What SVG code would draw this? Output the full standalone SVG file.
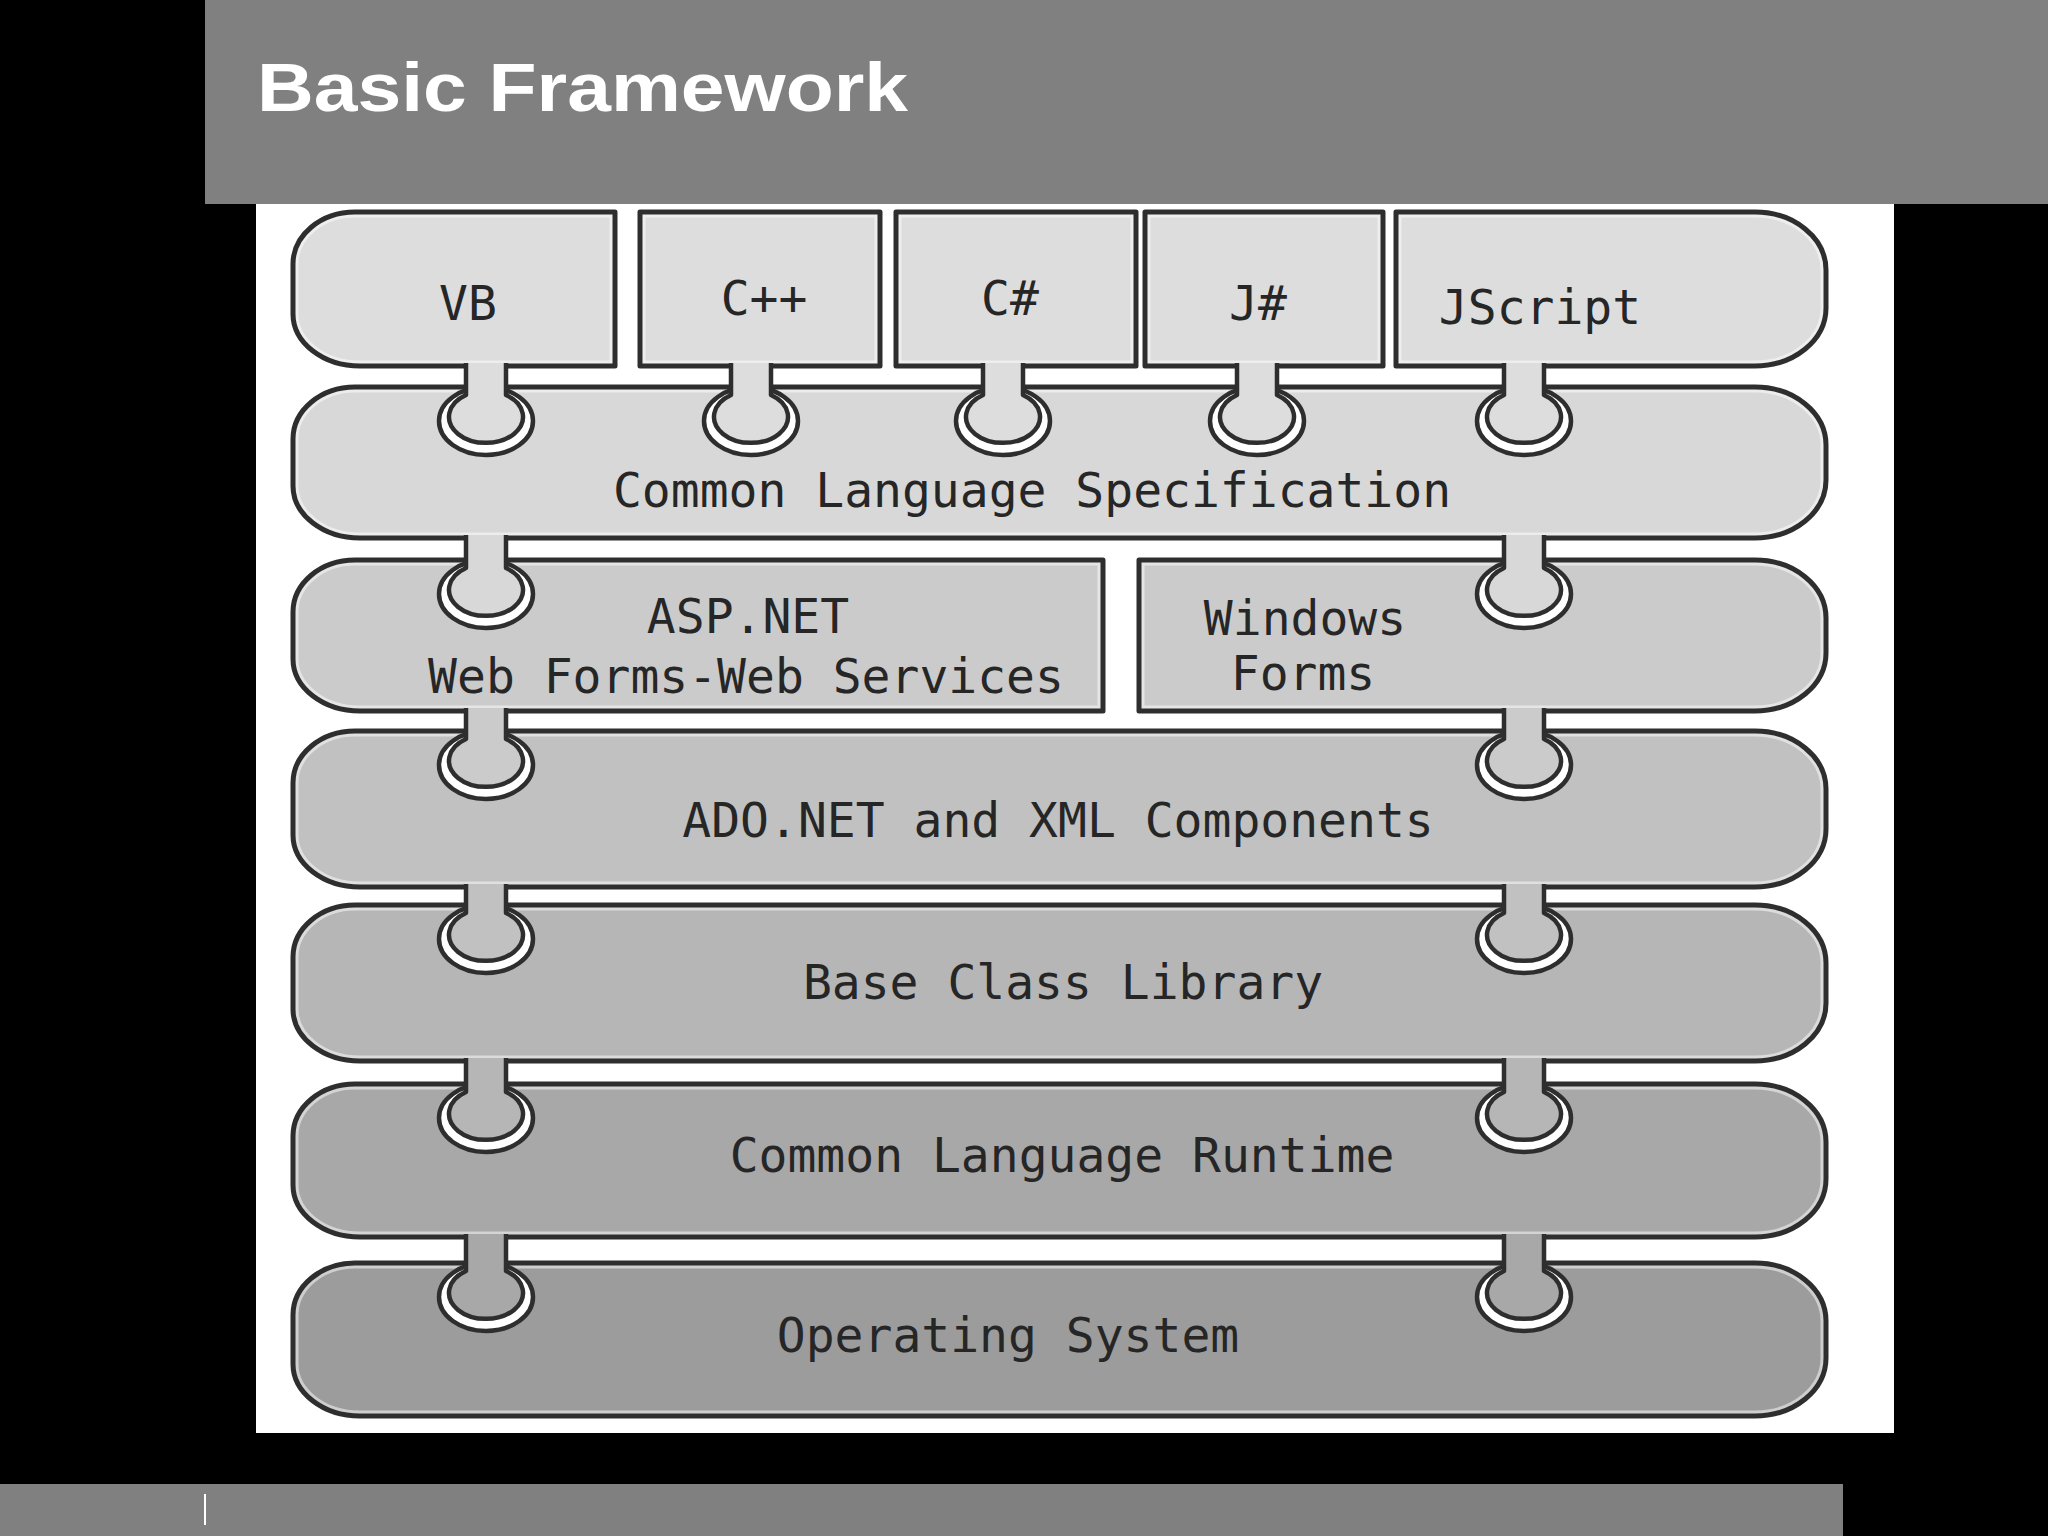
<svg xmlns="http://www.w3.org/2000/svg" xmlns:xlink="http://www.w3.org/1999/xlink" width="2048" height="1536" viewBox="0 0 2048 1536">
<defs>
<style>
.edge{fill:none;stroke:#2e2e2e;stroke-width:5;stroke-linejoin:round}
.hl{fill:none;stroke:#ffffff;stroke-opacity:0.5;stroke-width:11}
.lbl{font-family:"DejaVu Sans Mono","Liberation Mono",monospace;font-size:48px;fill:#262626;text-anchor:middle}
.socket{fill:#ffffff;stroke:#2e2e2e;stroke-width:4.5}
.tab{stroke:#2e2e2e;stroke-width:4.5;stroke-linejoin:round}
.f1{fill:#dddddd}.f2{fill:#d8d8d8}.f3{fill:#cbcbcb}.f4{fill:#c1c1c1}.f5{fill:#b6b6b6}.f6{fill:#a8a8a8}.f7{fill:#9c9c9c}
</style>
<path id="p-vb" d="M 615 366 H 360 A 67 52 0 0 1 293 314 V 264 A 62 52 0 0 1 355 212 H 615 Z"/>
<path id="p-cpp" d="M 640 212 H 880 V 366 H 640 Z"/>
<path id="p-cs" d="M 896 212 H 1136 V 366 H 896 Z"/>
<path id="p-js" d="M 1145 212 H 1383 V 366 H 1145 Z"/>
<path id="p-jscript" d="M 1396 212 H 1755 A 71 58 0 0 1 1826 270 V 308 A 71 58 0 0 1 1755 366 H 1396 Z"/>
<path id="p-cls" d="M 360 538 A 67 52 0 0 1 293 486 V 439 A 62 52 0 0 1 355 387 H 1755 A 71 58 0 0 1 1826 445 V 480 A 71 58 0 0 1 1755 538 Z"/>
<path id="p-asp" d="M 1103 711 H 360 A 67 52 0 0 1 293 659 V 612 A 62 52 0 0 1 355 560 H 1103 Z"/>
<path id="p-win" d="M 1139 560 H 1755 A 71 58 0 0 1 1826 618 V 653 A 71 58 0 0 1 1755 711 H 1139 Z"/>
<path id="p-ado" d="M 360 887 A 67 52 0 0 1 293 835 V 783 A 62 52 0 0 1 355 731 H 1755 A 71 58 0 0 1 1826 789 V 829 A 71 58 0 0 1 1755 887 Z"/>
<path id="p-bcl" d="M 360 1061 A 67 52 0 0 1 293 1009 V 957 A 62 52 0 0 1 355 905 H 1755 A 71 58 0 0 1 1826 963 V 1003 A 71 58 0 0 1 1755 1061 Z"/>
<path id="p-clr" d="M 360 1237 A 67 52 0 0 1 293 1185 V 1136 A 62 52 0 0 1 355 1084 H 1755 A 71 58 0 0 1 1826 1142 V 1179 A 71 58 0 0 1 1755 1237 Z"/>
<path id="p-os" d="M 360 1416 A 67 52 0 0 1 293 1364 V 1315 A 62 52 0 0 1 355 1263 H 1755 A 71 58 0 0 1 1826 1321 V 1358 A 71 58 0 0 1 1755 1416 Z"/>
<clipPath id="c-vb"><use xlink:href="#p-vb"/></clipPath>
<clipPath id="c-cpp"><use xlink:href="#p-cpp"/></clipPath>
<clipPath id="c-cs"><use xlink:href="#p-cs"/></clipPath>
<clipPath id="c-js"><use xlink:href="#p-js"/></clipPath>
<clipPath id="c-jscript"><use xlink:href="#p-jscript"/></clipPath>
<clipPath id="c-cls"><use xlink:href="#p-cls"/></clipPath>
<clipPath id="c-asp"><use xlink:href="#p-asp"/></clipPath>
<clipPath id="c-win"><use xlink:href="#p-win"/></clipPath>
<clipPath id="c-ado"><use xlink:href="#p-ado"/></clipPath>
<clipPath id="c-bcl"><use xlink:href="#p-bcl"/></clipPath>
<clipPath id="c-clr"><use xlink:href="#p-clr"/></clipPath>
<clipPath id="c-os"><use xlink:href="#p-os"/></clipPath>
</defs>

<rect x="0" y="0" width="2048" height="1536" fill="#000000"/>
<rect x="205" y="0" width="1843" height="204" fill="#808080"/>
<text x="257" y="111" font-family="'Liberation Sans',Arial,sans-serif" font-weight="bold" font-size="68" fill="#ffffff" textLength="651" lengthAdjust="spacingAndGlyphs">Basic Framework</text>
<rect x="256" y="204" width="1638" height="1229" fill="#ffffff"/>
<rect x="0" y="1484" width="1843" height="52" fill="#808080"/>
<rect x="204" y="1494" width="2" height="31" fill="#ffffff"/>

<g id="node-vb">
<use xlink:href="#p-vb" class="f1"/><use xlink:href="#p-vb" class="hl" clip-path="url(#c-vb)"/><use xlink:href="#p-vb" class="edge"/>
<text class="lbl" x="468" y="320">VB</text>
</g>
<g id="node-cpp">
<use xlink:href="#p-cpp" class="f1"/><use xlink:href="#p-cpp" class="hl" clip-path="url(#c-cpp)"/><use xlink:href="#p-cpp" class="edge"/>
<text class="lbl" x="764" y="315">C++</text>
</g>
<g id="node-csharp">
<use xlink:href="#p-cs" class="f1"/><use xlink:href="#p-cs" class="hl" clip-path="url(#c-cs)"/><use xlink:href="#p-cs" class="edge"/>
<text class="lbl" x="1010" y="315">C#</text>
</g>
<g id="node-jsharp">
<use xlink:href="#p-js" class="f1"/><use xlink:href="#p-js" class="hl" clip-path="url(#c-js)"/><use xlink:href="#p-js" class="edge"/>
<text class="lbl" x="1258" y="320">J#</text>
</g>
<g id="node-jscript">
<use xlink:href="#p-jscript" class="f1"/><use xlink:href="#p-jscript" class="hl" clip-path="url(#c-jscript)"/><use xlink:href="#p-jscript" class="edge"/>
<text class="lbl" x="1540" y="324">JScript</text>
</g>
<g id="node-cls">
<use xlink:href="#p-cls" class="f2"/><use xlink:href="#p-cls" class="hl" clip-path="url(#c-cls)"/><use xlink:href="#p-cls" class="edge"/>
<text class="lbl" x="1032" y="507">Common Language Specification</text>
</g>
<g id="node-aspnet">
<use xlink:href="#p-asp" class="f3"/><use xlink:href="#p-asp" class="hl" clip-path="url(#c-asp)"/><use xlink:href="#p-asp" class="edge"/>
<text class="lbl" x="748" y="633">ASP.NET</text>
<text class="lbl" x="746" y="693">Web Forms-Web Services</text>
</g>
<g id="node-winforms">
<use xlink:href="#p-win" class="f3"/><use xlink:href="#p-win" class="hl" clip-path="url(#c-win)"/><use xlink:href="#p-win" class="edge"/>
<text class="lbl" x="1305" y="635">Windows</text>
<text class="lbl" x="1303" y="690">Forms</text>
</g>
<g id="node-adonet">
<use xlink:href="#p-ado" class="f4"/><use xlink:href="#p-ado" class="hl" clip-path="url(#c-ado)"/><use xlink:href="#p-ado" class="edge"/>
<text class="lbl" x="1058" y="837">ADO.NET and XML Components</text>
</g>
<g id="node-bcl">
<use xlink:href="#p-bcl" class="f5"/><use xlink:href="#p-bcl" class="hl" clip-path="url(#c-bcl)"/><use xlink:href="#p-bcl" class="edge"/>
<text class="lbl" x="1063" y="999">Base Class Library</text>
</g>
<g id="node-clr">
<use xlink:href="#p-clr" class="f6"/><use xlink:href="#p-clr" class="hl" clip-path="url(#c-clr)"/><use xlink:href="#p-clr" class="edge"/>
<text class="lbl" x="1062" y="1172">Common Language Runtime</text>
</g>
<g id="node-os">
<use xlink:href="#p-os" class="f7"/><use xlink:href="#p-os" class="hl" clip-path="url(#c-os)"/><use xlink:href="#p-os" class="edge"/>
<text class="lbl" x="1008" y="1352">Operating System</text>
</g>

<g id="connectors">
<!-- languages to CLS: yb=366 yt=387 -->
<ellipse class="socket" cx="486" cy="421" rx="47" ry="34"/><path class="tab f1" d="M 466 363 V 395 A 37 26 0 1 0 506 395 V 363"/>
<ellipse class="socket" cx="751" cy="421" rx="47" ry="34"/><path class="tab f1" d="M 731 363 V 395 A 37 26 0 1 0 771 395 V 363"/>
<ellipse class="socket" cx="1003" cy="421" rx="47" ry="34"/><path class="tab f1" d="M 983 363 V 395 A 37 26 0 1 0 1023 395 V 363"/>
<ellipse class="socket" cx="1257" cy="421" rx="47" ry="34"/><path class="tab f1" d="M 1237 363 V 395 A 37 26 0 1 0 1277 395 V 363"/>
<ellipse class="socket" cx="1524" cy="421" rx="47" ry="34"/><path class="tab f1" d="M 1504 363 V 395 A 37 26 0 1 0 1544 395 V 363"/>
<!-- CLS to ASP/WinForms: yb=538 yt=560 -->
<ellipse class="socket" cx="486" cy="594" rx="47" ry="34"/><path class="tab f2" d="M 466 535 V 568 A 37 26 0 1 0 506 568 V 535"/>
<ellipse class="socket" cx="1524" cy="594" rx="47" ry="34"/><path class="tab f2" d="M 1504 535 V 568 A 37 26 0 1 0 1544 568 V 535"/>
<!-- ASP/WinForms to ADO: yb=711 yt=731 -->
<ellipse class="socket" cx="486" cy="765" rx="47" ry="34"/><path class="tab f3" d="M 466 708 V 739 A 37 26 0 1 0 506 739 V 708"/>
<ellipse class="socket" cx="1524" cy="765" rx="47" ry="34"/><path class="tab f3" d="M 1504 708 V 739 A 37 26 0 1 0 1544 739 V 708"/>
<!-- ADO to BCL: yb=887 yt=905 -->
<ellipse class="socket" cx="486" cy="939" rx="47" ry="34"/><path class="tab f4" d="M 466 884 V 913 A 37 26 0 1 0 506 913 V 884"/>
<ellipse class="socket" cx="1524" cy="939" rx="47" ry="34"/><path class="tab f4" d="M 1504 884 V 913 A 37 26 0 1 0 1544 913 V 884"/>
<!-- BCL to CLR: yb=1061 yt=1084 -->
<ellipse class="socket" cx="486" cy="1118" rx="47" ry="34"/><path class="tab f5" d="M 466 1058 V 1092 A 37 26 0 1 0 506 1092 V 1058"/>
<ellipse class="socket" cx="1524" cy="1118" rx="47" ry="34"/><path class="tab f5" d="M 1504 1058 V 1092 A 37 26 0 1 0 1544 1092 V 1058"/>
<!-- CLR to OS: yb=1237 yt=1263 -->
<ellipse class="socket" cx="486" cy="1297" rx="47" ry="34"/><path class="tab f6" d="M 466 1234 V 1271 A 37 26 0 1 0 506 1271 V 1234"/>
<ellipse class="socket" cx="1524" cy="1297" rx="47" ry="34"/><path class="tab f6" d="M 1504 1234 V 1271 A 37 26 0 1 0 1544 1271 V 1234"/>
</g>
</svg>
